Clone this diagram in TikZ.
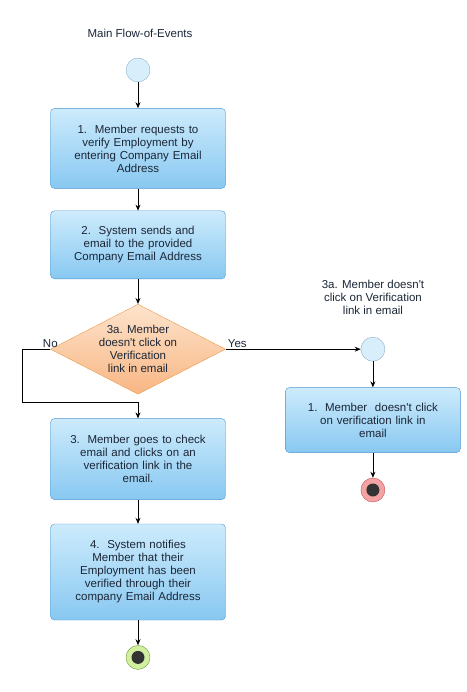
\documentclass[tikz,border=0pt]{standalone}
\usepackage{fontspec}
\setmainfont{Liberation Sans}
\usetikzlibrary{positioning,shapes.geometric,arrows.meta}

\definecolor{boxtop}{HTML}{CDEBFC}
\definecolor{boxbot}{HTML}{88C8F1}
\definecolor{boxline}{HTML}{4E96CF}
\definecolor{dectop}{HTML}{FDE3CC}
\definecolor{decbot}{HTML}{F8B683}
\definecolor{decline}{HTML}{EE9A4C}
\definecolor{circfill}{HTML}{D9EEFB}
\definecolor{circline}{HTML}{8BAFC9}
\definecolor{goodfill}{HTML}{D2EFA0}
\definecolor{goodline}{HTML}{6F9A35}
\definecolor{badfill}{HTML}{F3A3A3}
\definecolor{badline}{HTML}{C25656}
\definecolor{ink}{HTML}{1B2636}

\begin{document}
\begin{tikzpicture}[%
            x=1pt, y=-1pt,
            >={Stealth[length=6pt,width=5pt]},
            font=\fontsize{11.5}{13}\selectfont,
            text=ink,
            stepbox/.style={rectangle, rounded corners=4pt, draw=boxline,
                top color=boxtop, bottom color=boxbot, minimum width=175pt,
                text width=168pt, align=center, inner sep=0pt},
            decision/.style={diamond, draw=decline, top color=dectop,
                bottom color=decbot, minimum width=175pt, minimum height=90pt,
                shape aspect=1.94, inner sep=0pt, align=center},
            initnode/.style={circle, draw=circline, fill=circfill, minimum size=24pt},
            finalnode/.style={circle, draw=#1line, fill=#1fill, minimum size=24pt,
                path picture={\fill[black!80] (path picture bounding box.center) circle (6.5pt);}},
            flow/.style={->, draw=black, line width=0.8pt}
            ]
            \useasboundingbox (0,0) rectangle (466,692);

            % main flow
            \node (maintitle) at (140,33) {Main Flow-of-Events};
            \node[initnode] (start) at (138,70) {};
            \node[stepbox, minimum height=80pt] (s1) [below=26pt of start]
                {1.\ \ Member requests to\\ verify Employment by\\ entering Company Email\\ Address};
            \node[stepbox, minimum height=68pt] (s2) [below=22pt of s1]
                {2.\ \ System sends and\\ email to the provided\\ Company Email Address};
            \node[decision] (dec) [below=25pt of s2]
                {3a. Member\\ doesn\textquotesingle t click on\\ Verification\\ link in email};
            \node[stepbox, minimum height=81pt] (s3) [below=24pt of dec]
                {3.\ \ Member goes to check\\ email and clicks on an\\ verification link in the\\ email.};
            \node[stepbox, minimum height=96pt] (s4) [below=24pt of s3]
                {4.\ \ System notifies\\ Member that their\\ Employment has been\\ verified through their\\ company Email Address};
            \node[finalnode=good] (stop) [below=25pt of s4] {};

            % alternate flow
            \node[initnode] (altstart) [right=135pt of dec] {};
            \node[align=center] (alttitle) at (373,297)
                {3a. Member doesn\textquotesingle t\\ click on Verification\\ link in email};
            \node[stepbox, minimum height=65pt] (alt1) [below=26pt of altstart]
                {1.\ \ Member\ \ doesn\textquotesingle t click\\ on verification link in\\ email};
            \node[finalnode=bad] (altstop) [below=25pt of alt1] {};

            \coordinate (noturn) at (22,402);

            \draw[flow] (start) -- (s1);
            \draw[flow] (s1) -- (s2);
            \draw[flow] (s2) -- (dec);
            \draw[flow] (dec.west) -| (noturn) -| (s3.north);
            \draw[flow] (dec.east) -- (altstart);
            \draw[flow] (s3) -- (s4);
            \draw[flow] (s4) -- (stop);
            \draw[flow] (altstart) -- (alt1);
            \draw[flow] (alt1) -- (altstop);

            \node[above=0pt of dec.west, inner sep=1pt] (nolabel) {No};
            \node[above right=0pt and 1pt of dec.east, inner sep=1pt] (yeslabel) {Yes};
        \end{tikzpicture}
\end{document}
